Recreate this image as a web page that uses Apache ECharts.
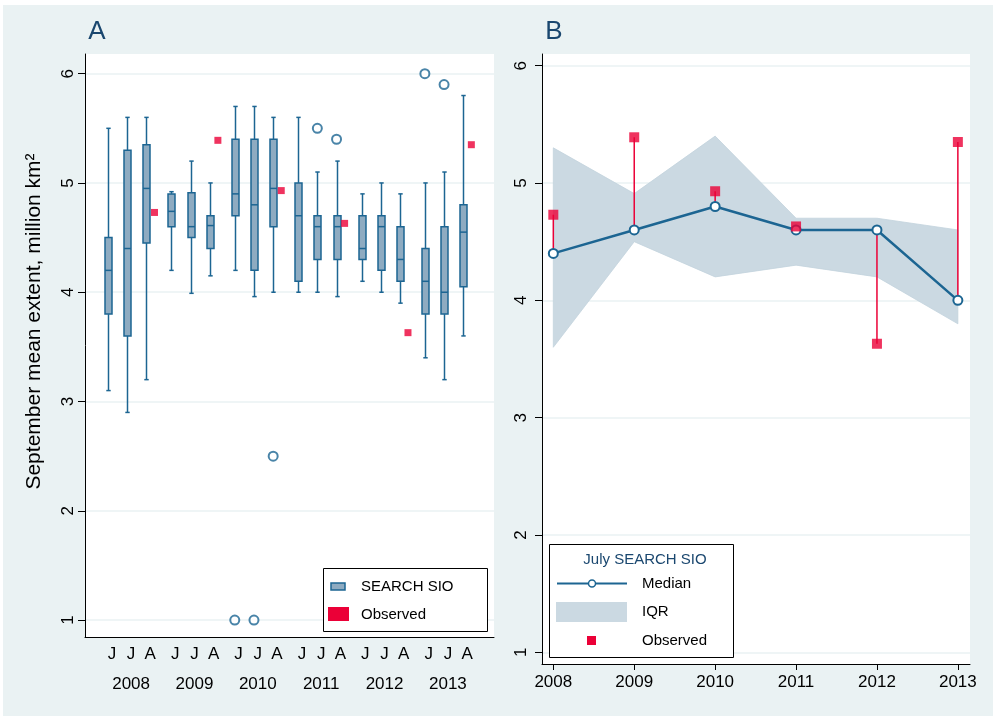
<!DOCTYPE html>
<html>
<head>
    <meta http-equiv="Content-Type" content="text/html; charset=utf-8">
    <title>September sea ice extent</title>
    <script src="https://cdn.jsdelivr.net/npm/echarts@6.0.0/dist/echarts.min.js"></script>
    <style>
        body {margin:0; background:#fff;}
    </style>
</head>
<body>
    <div id="main" style="width: 993px;height:719px;"></div>
    <script type="text/javascript">
        // data: each year has June, July, August SEARCH SIO outlooks
        var years = ['2008', '2009', '2010', '2011', '2012', '2013'];
        var months = ['J', 'J', 'A'];
        var boxMin = [3.1, 2.9, 3.2, 4.2, 3.99, 4.15, 4.2, 3.96, 4.0, 4.0, 4.0, 3.96, 4.1, 4.0, 3.9, 3.4, 3.2, 3.6];
        var boxQ1  = [3.8, 3.6, 4.45, 4.6, 4.5, 4.4, 4.7, 4.2, 4.6, 4.1, 4.3, 4.3, 4.3, 4.2, 4.1, 3.8, 3.8, 4.05];
        var boxMed = [4.2, 4.4, 4.95, 4.74, 4.6, 4.61, 4.9, 4.8, 4.95, 4.7, 4.6, 4.6, 4.4, 4.6, 4.3, 4.1, 4.0, 4.55];
        var boxQ3  = [4.5, 5.3, 5.35, 4.9, 4.91, 4.7, 5.4, 5.4, 5.4, 5.0, 4.7, 4.7, 4.7, 4.7, 4.6, 4.4, 4.6, 4.8];
        var boxMax = [5.5, 5.6, 5.6, 4.92, 5.2, 5.0, 5.7, 5.7, 5.6, 5.6, 5.1, 5.2, 4.9, 5.0, 4.9, 5.0, 5.1, 5.8];
        // outliers: [box index, value]
        var outliers = [[6, 1.0], [7, 1.0], [8, 2.5], [10, 5.5], [11, 5.4], [15, 6.0], [16, 5.9]];
        var observed = [4.73, 5.39, 4.93, 4.63, 3.63, 5.35];
        var yTicks = [1, 2, 3, 4, 5, 6];

        var boxColor = '#1c6592', boxFill = '#8eabc1', red = '#eb0037', iqrFill = '#cbd9e2';
        var font = 'Liberation Sans, Arial, sans-serif';

        // x position of a box in panel A (value-axis units)
        function pos(i) { return Math.floor(i / 3) * 3.3 + (i % 3); }
        var monthLabelPos = [], yearLabelPos = [];
        boxMed.forEach(function (v, i) { monthLabelPos.push(pos(i) + 0.2); });
        years.forEach(function (y, g) { yearLabelPos.push(pos(g * 3 + 1) + 0.2); });

        var boxData = boxMed.map(function (v, i) {
            return [pos(i), boxMin[i], boxQ1[i], boxMed[i], boxQ3[i], boxMax[i]];
        });
        var outData = outliers.map(function (o) { return [pos(o[0]), o[1]]; });
        var obsA = observed.map(function (v, g) { return [pos(g * 3 + 2) + 0.42, v]; });

        // panel B uses the July outlook (middle box of each year)
        var yearNum = years.map(Number);
        var julyMed = yearNum.map(function (y, g) { return [y, boxMed[g * 3 + 1]]; });
        var julyIqr = yearNum.map(function (y, g) { return [y, boxQ1[g * 3 + 1], boxQ3[g * 3 + 1]]; });
        var obsB = yearNum.map(function (y, g) { return [y, observed[g]]; });
        var drops = yearNum.map(function (y, g) { return [y, observed[g], boxMed[g * 3 + 1]]; });

        function lookup(list, labels) {
            return function (v) {
                for (var i = 0; i < list.length; i++) {
                    if (Math.abs(list[i] - v) < 1e-6) return labels[i];
                }
                return '';
            };
        }
        var monthLabels = boxMed.map(function (v, i) { return months[i % 3]; });

        var myChart = echarts.init(document.getElementById('main'));
        var axisText = {color: '#000', fontSize: 17, fontFamily: font};
        var gridLine = {show: true, lineStyle: {color: '#eaf2f3', width: 1.5}};

        var option = {
            backgroundColor: '#fff',
            animation: false,
            textStyle: {fontFamily: font},
            graphic: [
                {type: 'rect', z: -10, shape: {x: 3, y: 5, width: 990, height: 711}, style: {fill: '#eaf2f3'}},
                {type: 'text', x: 97, y: 32, style: {text: 'A', fontSize: 26, fill: '#1a476f', align: 'center', verticalAlign: 'middle', fontFamily: font}},
                {type: 'text', x: 554, y: 32, style: {text: 'B', fontSize: 26, fill: '#1a476f', align: 'center', verticalAlign: 'middle', fontFamily: font}},
                // legend A
                {type: 'rect', z: 20, shape: {x: 323.5, y: 568.5, width: 164, height: 63}, style: {fill: '#fff', stroke: '#000', lineWidth: 1}},
                {type: 'rect', z: 21, shape: {x: 331, y: 583, width: 14, height: 7}, style: {fill: boxFill, stroke: boxColor, lineWidth: 1.5}},
                {type: 'text', z: 21, x: 361, y: 587, style: {text: 'SEARCH SIO', fontSize: 15, fill: '#000', verticalAlign: 'middle', fontFamily: font}},
                {type: 'rect', z: 21, shape: {x: 328, y: 607, width: 21, height: 14}, style: {fill: red}},
                {type: 'text', z: 21, x: 361, y: 615, style: {text: 'Observed', fontSize: 15, fill: '#000', verticalAlign: 'middle', fontFamily: font}},
                // legend B
                {type: 'rect', z: 20, shape: {x: 549.5, y: 544.5, width: 184, height: 113}, style: {fill: '#fff', stroke: '#000', lineWidth: 1}},
                {type: 'text', z: 21, x: 645, y: 560, style: {text: 'July SEARCH SIO', fontSize: 15, fill: '#1a476f', align: 'center', verticalAlign: 'middle', fontFamily: font}},
                {type: 'line', z: 21, shape: {x1: 557, y1: 583.5, x2: 627, y2: 583.5}, style: {stroke: boxColor, lineWidth: 2}},
                {type: 'circle', z: 22, shape: {cx: 592, cy: 583.5, r: 3.5}, style: {fill: '#fff', stroke: boxColor, lineWidth: 1.5}},
                {type: 'text', z: 21, x: 642, y: 584, style: {text: 'Median', fontSize: 15, fill: '#000', verticalAlign: 'middle', fontFamily: font}},
                {type: 'rect', z: 21, shape: {x: 556, y: 602, width: 71, height: 20}, style: {fill: iqrFill}},
                {type: 'text', z: 21, x: 642, y: 612, style: {text: 'IQR', fontSize: 15, fill: '#000', verticalAlign: 'middle', fontFamily: font}},
                {type: 'rect', z: 21, shape: {x: 587, y: 636, width: 9, height: 9}, style: {fill: red}},
                {type: 'text', z: 21, x: 642, y: 641, style: {text: 'Observed', fontSize: 15, fill: '#000', verticalAlign: 'middle', fontFamily: font}}
            ],
            grid: [
                {left: 85, top: 54, width: 409, height: 583, show: true, backgroundColor: '#fff', borderWidth: 0},
                {left: 542, top: 54, width: 428, height: 610, show: true, backgroundColor: '#fff', borderWidth: 0}
            ],
            xAxis: [
                {gridIndex: 0, type: 'value', min: -1.2, max: 20.1,
                    axisLine: {onZero: false, lineStyle: {color: '#000', width: 1}}, axisTick: {show: false}, splitLine: {show: false},
                    axisLabel: Object.assign({customValues: monthLabelPos, formatter: lookup(monthLabelPos, monthLabels), margin: 9}, axisText)},
                {gridIndex: 0, type: 'value', min: -1.2, max: 20.1, position: 'bottom', offset: 31,
                    axisLine: {show: false, onZero: false}, axisTick: {show: false}, splitLine: {show: false},
                    axisLabel: Object.assign({customValues: yearLabelPos, formatter: lookup(yearLabelPos, years), margin: 8}, axisText)},
                {gridIndex: 1, type: 'value', min: 2007.86, max: 2013.15,
                    axisLine: {onZero: false, lineStyle: {color: '#000', width: 1}},
                    axisTick: {customValues: yearNum, length: 6, lineStyle: {color: '#000'}}, splitLine: {show: false},
                    axisLabel: Object.assign({customValues: yearNum, formatter: function (v) { return String(v); }, margin: 10}, axisText)}
            ],
            yAxis: [
                {gridIndex: 0, type: 'value', min: 0.845, max: 6.18,
                    name: 'September mean extent, million km²', nameLocation: 'middle', nameGap: 40,
                    nameTextStyle: {color: '#000', fontSize: 21, fontFamily: font, padding: [0, 0, 0, 48]},
                    axisLine: {show: true, onZero: false, lineStyle: {color: '#000', width: 1}},
                    axisTick: {show: true, customValues: yTicks, length: 7, lineStyle: {color: '#000'}},
                    splitLine: gridLine,
                    axisLabel: Object.assign({customValues: yTicks, rotate: 90, margin: 8}, axisText)},
                {gridIndex: 1, type: 'value', min: 0.9, max: 6.1,
                    axisLine: {show: true, onZero: false, lineStyle: {color: '#000', width: 1}},
                    axisTick: {show: true, customValues: yTicks, length: 7, lineStyle: {color: '#000'}},
                    splitLine: gridLine,
                    axisLabel: Object.assign({customValues: yTicks, rotate: 90, margin: 12}, axisText)}
            ],
            series: [
                {
                    type: 'custom', xAxisIndex: 0, yAxisIndex: 0, data: boxData,
                    encode: {x: 0, y: [1, 2, 3, 4, 5]},
                    renderItem: function (params, api) {
                        var x = api.value(0);
                        var pMin = api.coord([x, api.value(1)]);
                        var pQ1 = api.coord([x, api.value(2)]);
                        var pMed = api.coord([x, api.value(3)]);
                        var pQ3 = api.coord([x, api.value(4)]);
                        var pMax = api.coord([x, api.value(5)]);
                        var cx = Math.round(pMed[0]) + 0.5, hw = 3.5, cap = 2.2;
                        var line = {stroke: boxColor, lineWidth: 1.5};
                        return {type: 'group', children: [
                            {type: 'line', shape: {x1: cx, y1: pMin[1], x2: cx, y2: pQ1[1]}, style: line},
                            {type: 'line', shape: {x1: cx, y1: pQ3[1], x2: cx, y2: pMax[1]}, style: line},
                            {type: 'line', shape: {x1: cx - cap, y1: pMin[1], x2: cx + cap, y2: pMin[1]}, style: line},
                            {type: 'line', shape: {x1: cx - cap, y1: pMax[1], x2: cx + cap, y2: pMax[1]}, style: line},
                            {type: 'rect', shape: {x: cx - hw, y: pQ3[1], width: hw * 2, height: pQ1[1] - pQ3[1]},
                                style: {fill: boxFill, stroke: boxColor, lineWidth: 1.5}},
                            {type: 'line', shape: {x1: cx - hw, y1: pMed[1], x2: cx + hw, y2: pMed[1]}, style: line}
                        ]};
                    }
                },
                {type: 'scatter', xAxisIndex: 0, yAxisIndex: 0, data: outData, symbol: 'emptyCircle', symbolSize: 9,
                    itemStyle: {color: boxColor, borderWidth: 1.5}},
                {type: 'scatter', xAxisIndex: 0, yAxisIndex: 0, data: obsA, symbol: 'rect', symbolSize: 7,
                    itemStyle: {color: red}},
                // panel B: IQR band as one polygon through the library's scales
                {
                    type: 'custom', xAxisIndex: 2, yAxisIndex: 1, data: julyIqr, encode: {x: 0, y: [1, 2]}, z: 1,
                    renderItem: function (params, api) {
                        if (params.dataIndex !== 0) return null;
                        var upper = [], lower = [];
                        for (var i = 0; i < julyIqr.length; i++) {
                            lower.push(api.coord([api.value(0, i), api.value(1, i)]));
                            upper.push(api.coord([api.value(0, i), api.value(2, i)]));
                        }
                        return {type: 'polygon', shape: {points: lower.concat(upper.reverse())},
                            style: {fill: iqrFill, stroke: '#c3d3dd', lineWidth: 0.8}};
                    }
                },
                {
                    type: 'custom', xAxisIndex: 2, yAxisIndex: 1, data: drops, encode: {x: 0, y: [1, 2]}, z: 2,
                    renderItem: function (params, api) {
                        var a = api.coord([api.value(0), api.value(1)]);
                        var b = api.coord([api.value(0), api.value(2)]);
                        return {type: 'line', shape: {x1: a[0], y1: a[1], x2: b[0], y2: b[1]}, style: {stroke: red, lineWidth: 1.5}};
                    }
                },
                {type: 'line', xAxisIndex: 2, yAxisIndex: 1, data: julyMed, symbol: 'emptyCircle', symbolSize: 9, z: 3,
                    lineStyle: {color: boxColor, width: 2.5}, itemStyle: {color: boxColor, borderWidth: 2}},
                {type: 'scatter', xAxisIndex: 2, yAxisIndex: 1, data: obsB, symbol: 'rect', symbolSize: 10, z: 5,
                    itemStyle: {color: red}}
            ]
        };

        myChart.setOption(option);
    </script>
</body>
</html>
